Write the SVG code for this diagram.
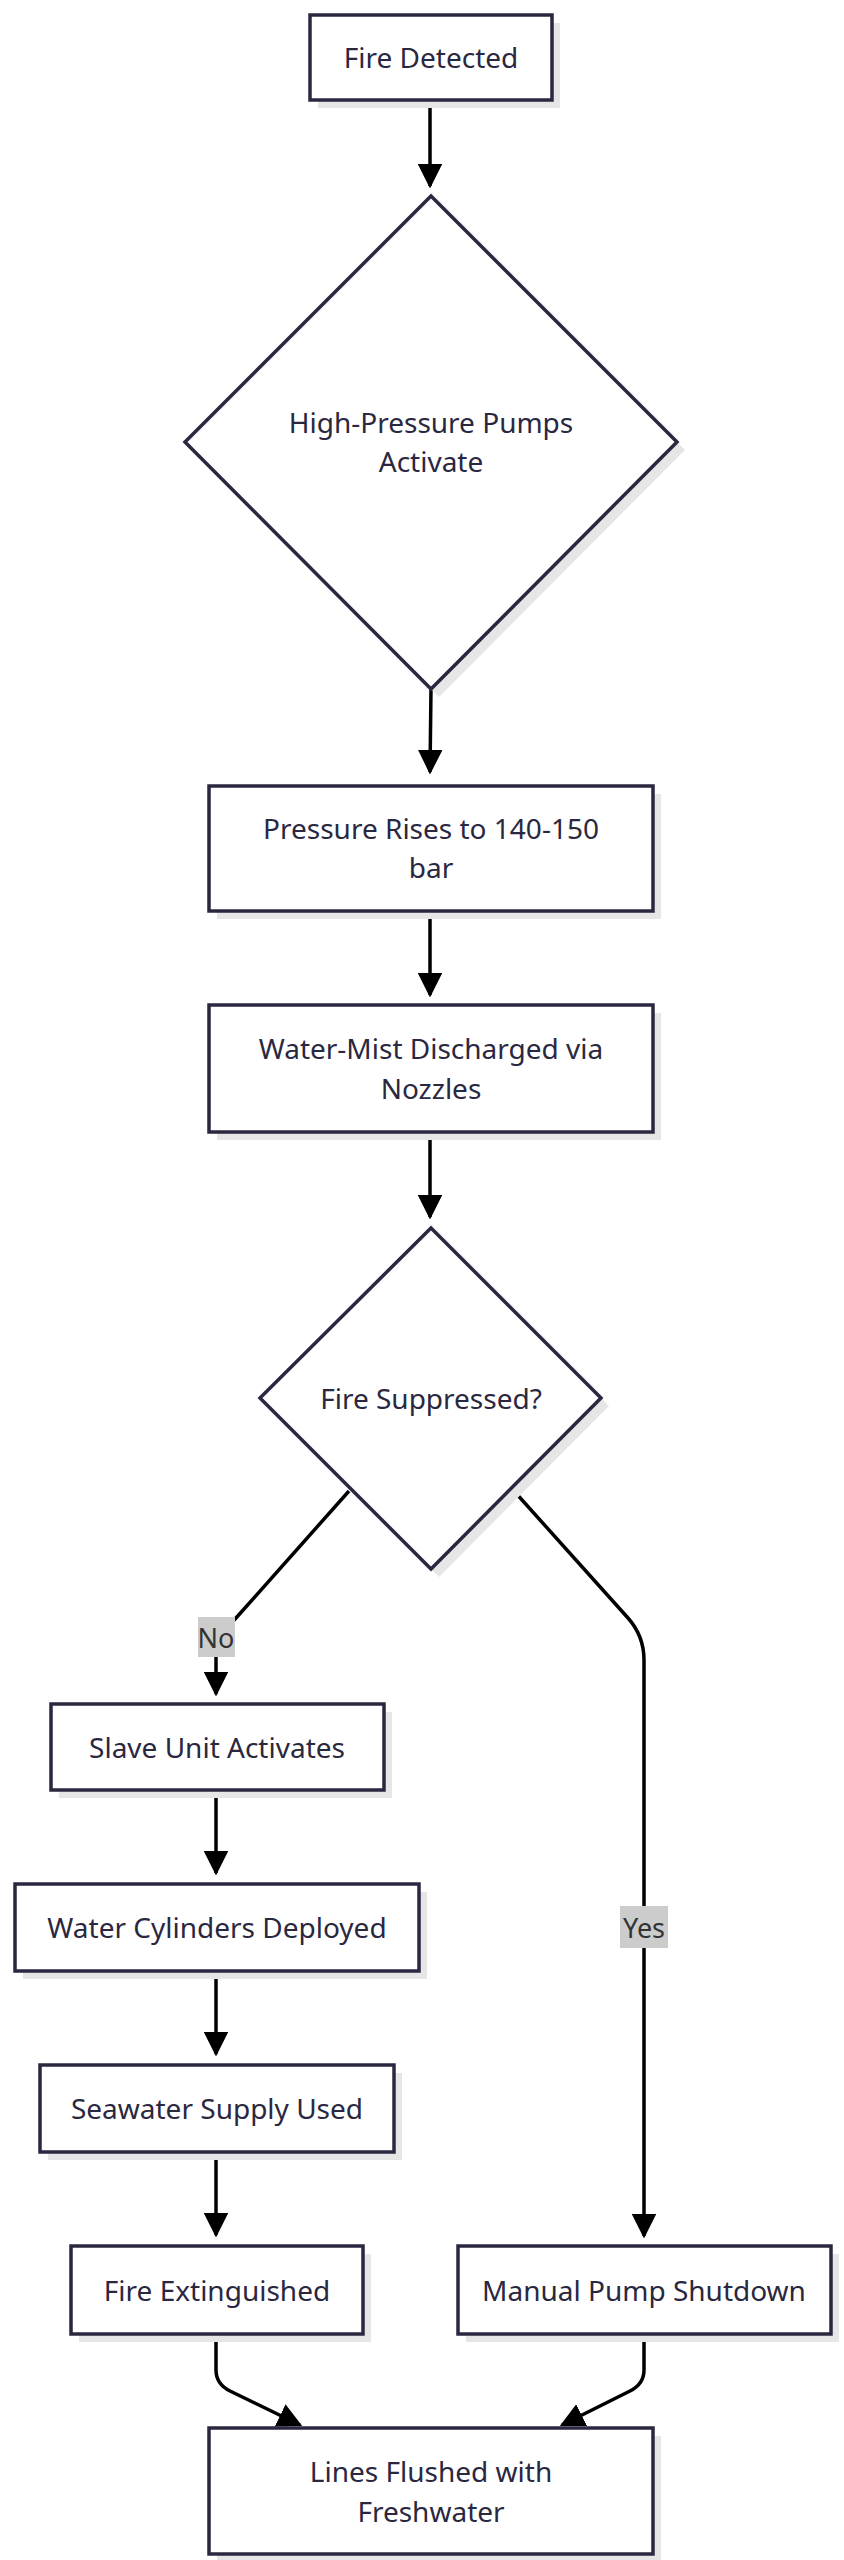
<svg xmlns="http://www.w3.org/2000/svg" width="844" height="2560" viewBox="0 0 844 2560">
<style>
.n{fill:#fff;stroke:#2a2840;stroke-width:3.5}
.s{fill:#e6e6e6}
.t{font-family:"Noto Sans","Open Sans",sans-serif;font-size:28px;fill:#2a2840;text-anchor:middle;dominant-baseline:central}
.e{fill:none;stroke:#000;stroke-width:3.5}
.lb{fill:#cccccc}
.lt{font-family:"Noto Sans","Open Sans",sans-serif;font-size:27px;fill:#333;text-anchor:middle;dominant-baseline:central}
</style>
<defs>
<marker id="ar" viewBox="0 0 10 10" refX="9" refY="5" markerWidth="7" markerHeight="7" orient="auto"><path d="M0,0L10,5L0,10z" fill="#000"/></marker>
</defs>
<g id="connectors">
<path class="e" d="M430,100V186" marker-end="url(#ar)"/>
<path class="e" d="M431,689L430,772" marker-end="url(#ar)"/>
<path class="e" d="M430,911V995" marker-end="url(#ar)"/>
<path class="e" d="M430,1132V1217" marker-end="url(#ar)"/>
<path class="e" d="M349,1491L236,1618L216,1640V1694" marker-end="url(#ar)"/>
<path class="e" d="M514,1491L628,1618Q644,1636 644,1660V2236" marker-end="url(#ar)"/>
<path class="e" d="M216,1790V1873" marker-end="url(#ar)"/>
<path class="e" d="M216,1971V2054" marker-end="url(#ar)"/>
<path class="e" d="M216,2152V2235" marker-end="url(#ar)"/>
<path class="e" d="M216,2334V2370Q216,2384 230,2391L300,2425" marker-end="url(#ar)"/>
<path class="e" d="M644,2334V2370Q644,2384 630,2391L562,2425" marker-end="url(#ar)"/>
<rect class="lb" x="198" y="1617" width="37" height="40"/>
<text class="lt" x="216" y="1637">No</text>
<rect class="lb" x="620" y="1906" width="48" height="42"/>
<text class="lt" x="644" y="1927">Yes</text>
</g>
<g id="n1"><rect class="s" x="318" y="23" width="242" height="85"/><rect class="n" x="310" y="15" width="242" height="85"/><text class="t" x="431" y="57">Fire Detected</text></g>
<g id="n2"><polygon class="s" points="439,204 685,450 439,697 193,450"/><polygon class="n" points="431,196 677,442 431,689 185,442"/><text class="t" x="431" y="422">High-Pressure Pumps</text><text class="t" x="431" y="461">Activate</text></g>
<g id="n3"><rect class="s" x="217" y="794" width="444" height="125"/><rect class="n" x="209" y="786" width="444" height="125"/><text class="t" x="431" y="828">Pressure Rises to 140-150</text><text class="t" x="431" y="867">bar</text></g>
<g id="n4"><rect class="s" x="217" y="1013" width="444" height="127"/><rect class="n" x="209" y="1005" width="444" height="127"/><text class="t" x="431" y="1048">Water-Mist Discharged via</text><text class="t" x="431" y="1088">Nozzles</text></g>
<g id="n5"><polygon class="s" points="439,1236 609,1406 439,1577 268,1406"/><polygon class="n" points="431,1228 601,1398 431,1569 260,1398"/><text class="t" x="431" y="1398">Fire Suppressed?</text></g>
<g id="n6"><rect class="s" x="59" y="1712" width="333" height="86"/><rect class="n" x="51" y="1704" width="333" height="86"/><text class="t" x="217" y="1747">Slave Unit Activates</text></g>
<g id="n7"><rect class="s" x="23" y="1892" width="404" height="87"/><rect class="n" x="15" y="1884" width="404" height="87"/><text class="t" x="217" y="1927">Water Cylinders Deployed</text></g>
<g id="n8"><rect class="s" x="48" y="2073" width="354" height="87"/><rect class="n" x="40" y="2065" width="354" height="87"/><text class="t" x="217" y="2108">Seawater Supply Used</text></g>
<g id="n9"><rect class="s" x="79" y="2254" width="292" height="88"/><rect class="n" x="71" y="2246" width="292" height="88"/><text class="t" x="217" y="2290">Fire Extinguished</text></g>
<g id="n10"><rect class="s" x="466" y="2254" width="373" height="88"/><rect class="n" x="458" y="2246" width="373" height="88"/><text class="t" x="644" y="2290">Manual Pump Shutdown</text></g>
<g id="n11"><rect class="s" x="217" y="2436" width="444" height="126"/><rect class="n" x="209" y="2428" width="444" height="126"/><text class="t" x="431" y="2471">Lines Flushed with</text><text class="t" x="431" y="2511">Freshwater</text></g>
</svg>
